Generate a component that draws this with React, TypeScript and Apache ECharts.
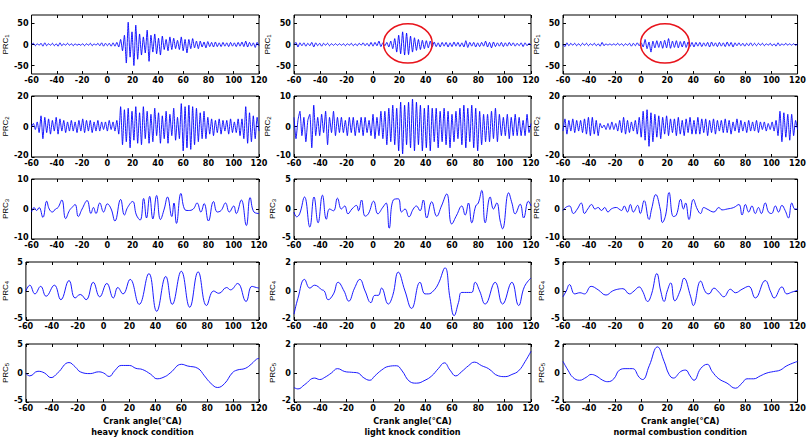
import React, { useEffect, useRef } from 'react';
import * as echarts from 'echarts';

// ---------- axes ----------
const ANGLE_MIN = -60;
const ANGLE_MAX = 120;
const ANGLE_STEP = 20;
const conditionTitles = ['heavy knock condition', 'light knock condition', 'normal combustion condition'];
const xAxisTitle = 'Crank angle(°CA)';
const componentIndex = ['1', '2', '3', '4', '5'];
// y limits per column (heavy, light, normal), per row (PRC1..PRC5)
const yLimits = [
  [70, 20, 10, 5, 5],
  [70, 10, 5, 2, 2],
  [70, 20, 10, 5, 2],
];
const yTickSteps = [
  [50, 20, 10, 5, 5],
  [50, 10, 5, 2, 2],
  [50, 20, 10, 5, 2],
];

// ---------- PRC1 / PRC2: evenly sampled over -60..120 ----------
const heavyPrc1 = [
  0, 3, -3, 2, -2, 3, -4, 4, -3, 2,
  -2, 3, -3, 2, -4, 4, -3, 2, -2, 3,
  -2, 2, -3, 2, -2, 1, -2, 2, -3, 2,
  -2, 3, -3, 2, -2, 3, -3, 4, -4, 3,
  -3, 3, -4, 4, -4, 5, -6, 12, -15, 22,
  -44, 53, -30, 30, -50, 46, -35, 25, -25, 18,
  -20, 34, -40, 22, -18, 25, -22, 15, -25, 20,
  -12, 12, -15, 18, -12, 15, -10, 10, -12, 18,
  -15, 12, -20, 12, -10, 14, -8, 8, -10, 8,
  -6, 6, -8, 7, -5, 5, -6, 6, -5, 4,
  -5, 5, -4, 4, -5, 5, -4, 4, -5, 5,
  -4, 6, -5, 8, -6, 5, -4, 4, -7, 5,
  -3,
];
const heavyPrc2 = [
  0, 2, -2, 3, -4, 7, -8, 6, -4, 5,
  -5, 4, -3, 6, -5, 5, -3, 4, -4, 3,
  -3, 4, -3, 3, -4, 4, -3, 5, -4, 4,
  -3, 4, -4, 3, -3, 4, -3, 3, -2, 3,
  -3, 4, -2, 3, -3, 4, -5, 13, -12, 11,
  -10, 12, -14, 10, -9, 13, -11, 9, -12, 13,
  -8, 10, -11, 8, -10, 12, -6, 9, -11, 7,
  -8, 10, -11, 8, -6, 12, -9, 6, -8, 15,
  -16, 13, -14, 14, -15, 13, -12, 12, -10, 9,
  -8, 10, -8, 6, -5, 5, -6, 4, -4, 5,
  -5, 4, -3, 4, -5, 5, -4, 3, -4, 5,
  -6, 5, -8, 13, -11, 9, -10, 7, -8, 6,
  -3,
];
const lightPrc1 = [
  0, 5, -6, 4, -3, 4, -4, 3, -3, 5,
  -6, 4, -3, 3, -4, 3, -2, 3, -3, 2,
  -2, 2, -2, 2, -2, 2, -3, 2, -2, 3,
  -3, 2, -3, 3, -2, 4, -3, 3, -4, 5,
  -4, 5, -3, 8, -5, 4, -3, 5, -6, 8,
  -10, 14, -18, 22, -22, 30, -25, 27, -24, 20,
  -18, 16, -14, 12, -12, 10, -10, 9, -8, 8,
  -6, 6, -5, 4, -6, 5, -4, 5, -6, 4,
  -5, 6, -4, 5, -5, 4, -6, 9, -7, 5,
  -4, 5, -6, 4, -5, 5, -4, 8, -6, 5,
  -8, 6, -5, 4, -4, 5, -5, 4, -4, 5,
  -3, 4, -4, 3, -3, 4, -5, 4, -3, 3,
  -2,
];
const lightPrc2 = [
  3, -4, 2, 5, -3, 3, -5, 2, 4, -7,
  7, -3, 3, -3, 4, -2, 5, -6, 3, -2,
  5, -3, 3, -2, 3, -2, 2, -3, 3, -2,
  3, -3, 2, -2, 3, -3, 3, -2, 2, -3,
  4, -4, 3, -3, 5, -4, 5, -6, 6, -5,
  7, -6, 6, -8, 8, -9, 7, -6, 8, -7,
  9, -8, 8, -6, 7, -8, 6, -7, 7, -8,
  6, -5, 6, -7, 5, -5, 6, -6, 5, -7,
  4, -5, 5, -4, 6, -6, 7, -7, 6, -5,
  7, -7, 6, -8, 5, -6, 4, -5, 4, -5,
  5, -4, 6, -5, 4, -3, 3, -3, 4, -4,
  3, -3, 4, -3, 3, -3, 2, -3, 4, -2,
  1,
];
const normalPrc1 = [
  0, -5, 4, -3, 3, -2, 3, -3, 2, -3,
  3, -2, 3, -3, 2, -2, 3, -3, 2, -4,
  5, -3, 2, -2, 2, -2, 2, -2, 3, -2,
  2, -3, 2, -2, 3, -4, 3, -3, 4, -3,
  4, -6, 12, -10, 6, -18, 8, -8, 9, -7,
  8, -9, 10, -8, 14, -9, 8, -7, 9, -8,
  7, -6, 8, -7, 6, -5, 5, -6, 5, -4,
  5, -5, 4, -4, 5, -6, 6, -4, 4, -5,
  5, -4, 4, -5, 6, -4, 5, -6, 4, -3,
  4, -3, 3, -4, 3, -3, 4, -3, 3, -3,
  3, -2, 3, -3, 2, -2, 3, -3, 2, -4,
  4, -3, 2, -2, 3, -2, 2, -2, 2, -2,
  1,
];
const normalPrc2 = [
  -3, 5, -5, 4, -3, 5, -4, 4, -3, 4,
  -4, 5, -5, 6, -6, 6, -5, 4, -6, 2,
  -1, 1, -2, 2, -2, 3, -2, 2, -3, 4,
  -4, 6, -5, 4, -4, 3, -3, 4, -5, 6,
  -7, 10, -9, 11, -13, 9, -10, 8, -7, 7,
  -8, 6, -5, 7, -6, 5, -4, 5, -6, 6,
  -5, 4, -6, 5, -4, 6, -5, 4, -5, 6,
  -5, 5, -4, 5, -6, 4, -4, 5, -5, 4,
  -3, 4, -4, 5, -4, 4, -5, 3, -3, 5,
  -4, 4, -3, 3, -4, 4, -3, 3, -3, 4,
  -4, 3, -2, 3, -3, 2, -2, 3, -3, 4,
  -6, 10, -10, 9, -7, 8, -9, 8, -6, 4,
  -2,
];

// ---------- PRC3..PRC5: [crank angle, value] read at turning points ----------
const heavyPrc3 = [
  [-60, -1], [-58, 0.5], [-56, -0.5], [-54, 0.5], [-51, -2.8], [-48, 2.6], [-46, 0], [-43.5, -1], [-41, 0], [-39, 0.5],
  [-36, 3], [-33, -3.2], [-30, -0.5], [-28, 0.5], [-25.5, 1.5], [-23, -2.5], [-20, 0], [-16, 2.8], [-13, -1.5], [-11, 0.5],
  [-9, -1.5], [-6, 2], [-3, -1], [0, 1.7], [3, 0], [6, -4], [10.5, 3.2], [13.5, -2], [16, 0.5], [20, 2.5],
  [23, -2], [26, -3.7], [28.7, 3.5], [31, -3], [33.5, 4.2], [36, -3.3], [39, 4.5], [42, -3.5], [45, 0], [47.6, 4],
  [51, -2.5], [52.7, 2], [54.7, -4.8], [58.2, 5.2], [61, 0], [64, -0.5], [68, 0], [71, 2], [74, -1], [76.6, 1.8],
  [80, -4], [84, 2.5], [87, -1], [90, -0.5], [93.5, 2], [96.5, -1], [100, 1], [102, -1.5], [106, 3], [110, -5.5],
  [113, 3.8], [116, -1], [120, -1.5],
];
const lightPrc3 = [
  [-60, -0.5], [-58, -1.3], [-55.7, -0.8], [-52, 2], [-48, -3], [-44.8, 2], [-41.7, -2.3], [-38.4, 2.3], [-35.4, -1.7], [-33, 0],
  [-30, -0.3], [-27, 1.8], [-24, 0], [-21.5, 0.5], [-19, -0.8], [-16, 0], [-12.5, 0.6], [-11, -0.3], [-8.7, 1.5], [-6, -1.2],
  [-3.5, -0.8], [0.5, 1.3], [3.7, -0.8], [7.5, 0.3], [10, 1], [12.3, -3.2], [15.4, 1.5], [19.2, 1.7], [21.7, -0.5], [24.3, 0],
  [27.3, -1.3], [30.6, 0], [33, 0.5], [35.7, -0.3], [38.2, 1.5], [40.8, -1.5], [44.6, 1.2], [48.4, -1.2], [52, 0.5], [56, 2.5],
  [59.8, -2.5], [63.6, -1], [67.4, 0.5], [70, -1], [72.5, 1], [75, -2.3], [78, 0.5], [80, 1], [82.6, 3.1], [85.2, -2.3],
  [89, 2], [91.5, 0], [94, 1], [96.6, -2], [98.4, -3.3], [103, 2.7], [105.5, 1], [108, -0.8], [111.8, 0.8], [114.4, -1.5],
  [118, 1.3], [120, 0.5],
];
const normalPrc3 = [
  [-60, -0.5], [-58, 0.5], [-55, 1], [-52, -1.5], [-49, 0], [-46, 2], [-43.5, -1.5], [-41, 0], [-38, 1.5], [-35.5, 0],
  [-33, 0.5], [-30.5, -0.5], [-28, 0.5], [-25.5, -1], [-23, 0], [-19, 0.5], [-17, 0], [-15, -0.5], [-13, 1], [-10.5, -1],
  [-8.3, 1.5], [-6, -1], [-2.7, 1.2], [-0.7, -1.5], [2.3, 2.8], [6, -3.5], [8, 0], [11.2, 4.8], [14.6, 0], [16.3, -4.5],
  [18.8, -2], [21.4, 5.5], [24.7, -2.5], [27, -2], [30.3, 3.2], [32.4, 0], [34.1, 2], [36.7, -3.5], [40, 3.2], [43, 0],
  [45.6, -1.5], [48, 0.5], [50.5, 0], [55.8, -1], [59.6, 0.5], [62, -0.3], [66, 0], [71, 0.5], [75, 1.5], [77.4, -2],
  [80, 1.5], [82.5, -1], [85, 1], [87.6, -1.5], [90, 0.5], [92.2, -1.5], [95.2, 2], [97.7, -1], [100, -1.5], [103, 1],
  [105.4, -1], [108, 1.2], [110.5, -0.5], [113, -3], [115.6, 2], [118, 0], [120, 0],
];
const heavyPrc4 = [
  [-60, 0], [-57, 1], [-53, -0.5], [-48.6, 0.8], [-44.4, -0.9], [-38, 1], [-33, -1.5], [-26.7, 1.8], [-22, -1.2], [-18, -0.6],
  [-13.5, -1.5], [-8, 1.5], [-3, -1], [2.5, 1.3], [7.5, -1.2], [11, 0.6], [15, -0.5], [20.5, 2], [27.5, -2.3], [35, 3],
  [41, -3.5], [48, 2.5], [53, -2.3], [60, 3.4], [66.5, -2.8], [73, 3.3], [79.5, -2.5], [85, 0], [89, -0.4], [95, 0.6],
  [98, 0.2], [103.5, 1.3], [110, -1.8], [114.5, 0.8], [118, 0.6], [120, 0.5],
];
const lightPrc4 = [
  [-60, -1.6], [-57, -0.5], [-52, 0.8], [-48, 0.2], [-44.3, 0.4], [-41.7, 0.3], [-39.2, 0.1], [-37, 0], [-34, -0.6], [-30, -0.2],
  [-26.5, 0.6], [-22, 0], [-18.4, -0.7], [-14, 0.2], [-10, 0.8], [-6, 0], [-1.6, -0.8], [1.4, -0.3], [4, -0.3], [6.5, 0.2],
  [11.6, -0.9], [15, -0.3], [19.2, 1.3], [24.3, 0], [29.3, -1.2], [35.7, 0.6], [39.5, -0.2], [42, -0.2], [45.8, 0], [49.6, 0.5],
  [54.7, 1.6], [58.5, -0.5], [61.6, -1.7], [64.9, -0.8], [67.4, -0.1], [72.5, -0.1], [75, -0.1], [77.6, 0.6], [81, 0], [85.2, -0.9],
  [92.8, 0.6], [98.4, -0.9], [105.5, 0.6], [110.6, -1], [115, 0.3], [120, 0.9],
];
const normalPrc4 = [
  [-60, -1], [-57.5, 0], [-55, 1.1], [-51, -0.5], [-47, -0.3], [-43.5, -0.5], [-38.4, 0.8], [-33, 0.2], [-27, -0.7], [-22, 0],
  [-18, 0.3], [-14, 0.4], [-9, -0.5], [-5.5, 0], [-1.5, 0.7], [1, 0], [5, -1.8], [8, -0.5], [12, 3], [15, 0],
  [17.6, -1.8], [20, 0], [22.7, 1.4], [25.8, -1.7], [29.8, 0], [32.9, 2.2], [38, -1], [40, -2.5], [45.6, 1.7], [49.4, -0.2],
  [52, -0.5], [55.8, 0.5], [59.6, -0.2], [63.4, -1], [68.5, 0.3], [72.3, -0.3], [77.4, 0.3], [82.5, 0.8], [87.6, -1.2], [95.2, 1.8],
  [99.5, -0.2], [102, -1.2], [108, 0.7], [111.8, -0.5], [115.6, -0.2], [120, 0.1],
];
const heavyPrc5 = [
  [-60, -0.1], [-57, -0.5], [-50.7, 0.3], [-45.6, 0], [-40.6, -0.8], [-35.5, 0], [-26.7, 1.8], [-21.7, 1], [-18, 0.2], [-10.3, -0.1],
  [-4, 0.2], [0, 0], [4.3, -0.6], [8.6, 0.4], [13.6, 1.3], [19.9, 1.3], [25, 0.8], [30, 0.6], [36.3, -0.2], [41.3, -1],
  [47.6, -0.6], [51.4, 0], [60.2, 1.5], [65, 1.2], [72.8, 0.8], [77.9, -0.5], [82.9, -1.8], [88, -2.5], [93.5, -1.8], [99.3, 0],
  [103, 0.5], [109.4, 0.8], [114.4, 1.6], [118.2, 2.4], [120, 2.5],
];
const lightPrc5 = [
  [-60, -1], [-57, -1.1], [-51.9, -0.8], [-44.3, -0.35], [-40.5, -0.45], [-36.6, -0.3], [-31.6, 0], [-27, 0.3], [-21.4, 0.1], [-16.3, 0.05],
  [-11.3, 0], [-7.5, -0.3], [-2.4, -0.5], [1.4, -0.2], [6.5, 0.2], [11.6, 0.45], [17.9, 0.5], [21.7, 0.2], [28.1, -0.6], [33.1, -0.7],
  [39.5, -0.5], [44.6, -0.2], [49.6, 0.3], [54.2, 0.7], [58.5, 0.2], [62.8, -0.2], [67.4, 0.1], [72.5, 0.5], [77, 0.75], [82.6, 0.5],
  [87.7, 0.3], [95.3, -0.2], [100.4, -0.25], [105.5, -0.1], [110.6, 0.15], [115.6, 0.8], [120, 1.5],
];
const normalPrc5 = [
  [-60, 0.8], [-56.2, 0.2], [-52.4, -0.3], [-47.3, -0.5], [-42.2, -0.3], [-38.4, -0.1], [-34.6, -0.2], [-29.5, -0.5], [-25.6, -0.6], [-21, -0.4],
  [-16.7, 0.2], [-11.7, 0.3], [-6.6, 0.3], [-1.5, -0.3], [1.1, -0.45], [6.2, 0.5], [12.5, 1.8], [17.6, 0.8], [21.4, -0.1], [24.7, -0.35],
  [30.3, 0.1], [34.1, 0.2], [37.5, -0.2], [40.5, -0.5], [45.6, 0.3], [50.7, 0.6], [54.5, 0.1], [59.6, -0.4], [65.9, -0.7], [72.3, -1.05],
  [77.4, -0.7], [81.2, -0.4], [86.3, -0.4], [91.4, -0.2], [96.5, 0], [101.6, 0.1], [106.7, 0.2], [111.8, 0.5], [120, 0.8],
];

// annotated knock windows (crank angle / PRC1 value bounds) for light and normal PRC1
const knockWindows = [
  { col: 1, angleFrom: 8, angleTo: 45, valueFrom: -44, valueTo: 49 },
  { col: 2, angleFrom: -0.5, angleTo: 37, valueFrom: -44, valueTo: 49 },
];

// ---------- layout (pixels) ----------
const colLeft = [21, 294, 563];
const colWidth = [238, 237, 236];
const rowTop = [15, 96, 179, 262, 344];
const rowHeight = [59, 61, 60, 58, 59];
const yNameGap = [11, 17, 17];

const evenlySampled = (values: number[]) =>
  values.map((v, i) => [ANGLE_MIN + (i * (ANGLE_MAX - ANGLE_MIN)) / (values.length - 1), v]);

const seriesData: number[][][][] = [
  [evenlySampled(heavyPrc1), evenlySampled(heavyPrc2), heavyPrc3, heavyPrc4, heavyPrc5],
  [evenlySampled(lightPrc1), evenlySampled(lightPrc2), lightPrc3, lightPrc4, lightPrc5],
  [evenlySampled(normalPrc1), evenlySampled(normalPrc2), normalPrc3, normalPrc4, normalPrc5],
];

const FONT = "'Liberation Sans Narrow', 'DejaVu Sans Condensed', Arial, sans-serif";
const tickStyle = { show: true, inside: true, length: 3, lineStyle: { color: '#000', width: 1 } };
const hiddenLine = { show: false, onZero: false };
const labelText = { color: '#000', fontSize: 9, fontWeight: 'bold', fontFamily: FONT };

export default function App() {
  const ref = useRef<HTMLDivElement>(null);
  useEffect(() => {
    if (!ref.current) return;
    const chart = echarts.init(ref.current, null, { renderer: 'svg' });
    const grids: any[] = [];
    const xAxes: any[] = [];
    const yAxes: any[] = [];
    const series: any[] = [];
    for (let row = 0; row < 5; row++) {
      for (let col = 0; col < 3; col++) {
        const k = row * 3 + col;
        grids.push({
          left: colLeft[col],
          top: rowTop[row],
          width: colWidth[col],
          height: rowHeight[row],
          show: true,
          borderColor: '#000',
          borderWidth: 1,
          backgroundColor: '#fff',
          containLabel: false,
        });
        const lim = yLimits[col][row];
        const step = yTickSteps[col][row];
        const yVals = [-step, 0, step];
        const isBottom = row === 4;
        xAxes.push({
          type: 'value',
          gridIndex: k,
          position: 'bottom',
          min: ANGLE_MIN,
          max: ANGLE_MAX,
          interval: ANGLE_STEP,
          axisLine: hiddenLine,
          axisTick: tickStyle,
          splitLine: { show: false },
          axisLabel: { show: true, margin: 1, ...labelText },
          name: isBottom ? `${xAxisTitle}\n${conditionTitles[col]}` : '',
          nameLocation: 'middle',
          nameGap: 13,
          nameTextStyle: { ...labelText, lineHeight: 11 },
        });
        xAxes.push({
          type: 'value',
          gridIndex: k,
          position: 'top',
          min: ANGLE_MIN,
          max: ANGLE_MAX,
          interval: ANGLE_STEP,
          axisLine: hiddenLine,
          axisTick: tickStyle,
          splitLine: { show: false },
          axisLabel: { show: false },
        });
        yAxes.push({
          type: 'value',
          gridIndex: k,
          position: 'left',
          min: -lim,
          max: lim,
          axisLine: hiddenLine,
          axisTick: { ...tickStyle, customValues: yVals },
          splitLine: { show: false },
          axisLabel: {
            show: true,
            customValues: yVals,
            margin: 3,
            ...labelText,
            formatter: (v: number) => (v === -lim ? `{lo|${v}}` : `${v}`),
            rich: { lo: { ...labelText, padding: [0, 0, 5, 0] } },
          },
          name: `PRC{s|${componentIndex[row]}}`,
          nameLocation: 'middle',
          nameRotate: 90,
          nameGap: yNameGap[col],
          nameTextStyle: {
            color: '#000',
            fontSize: 8,
            fontFamily: 'Arial, sans-serif',
            rich: { s: { fontSize: 6, fontFamily: 'Arial, sans-serif', color: '#000', padding: [4, 0, 0, 0] } },
          },
        });
        yAxes.push({
          type: 'value',
          gridIndex: k,
          position: 'right',
          min: -lim,
          max: lim,
          axisLine: hiddenLine,
          axisTick: { ...tickStyle, customValues: yVals },
          splitLine: { show: false },
          axisLabel: { show: false },
        });
        series.push({
          type: 'line',
          xAxisIndex: 2 * k,
          yAxisIndex: 2 * k,
          data: seriesData[col][row],
          showSymbol: false,
          smooth: row >= 2 ? 0.45 : 0.2,
          silent: true,
          clip: true,
          lineStyle: { color: '#0000ff', width: 0.9 },
        });
      }
    }
    chart.setOption({
      animation: false,
      backgroundColor: '#fff',
      grid: grids,
      xAxis: xAxes,
      yAxis: yAxes,
      series,
    });
    const ellipses = knockWindows.map((w) => {
      const k = w.col; // row 0
      const p1 = chart.convertToPixel({ gridIndex: k }, [w.angleFrom, w.valueTo]) as number[];
      const p2 = chart.convertToPixel({ gridIndex: k }, [w.angleTo, w.valueFrom]) as number[];
      return {
        type: 'ellipse',
        silent: true,
        z: 100,
        shape: {
          cx: (p1[0] + p2[0]) / 2,
          cy: (p1[1] + p2[1]) / 2,
          rx: Math.abs(p2[0] - p1[0]) / 2,
          ry: Math.abs(p2[1] - p1[1]) / 2,
        },
        style: { fill: 'none', stroke: '#e8141c', lineWidth: 1.5 },
      };
    });
    chart.setOption({ graphic: ellipses });
    return () => chart.dispose();
  }, []);
  return (
    <div
      ref={ref}
      style={{ position: 'fixed', left: 0, top: 0, width: 809, height: 438, background: '#fff' }}
    />
  );
}
